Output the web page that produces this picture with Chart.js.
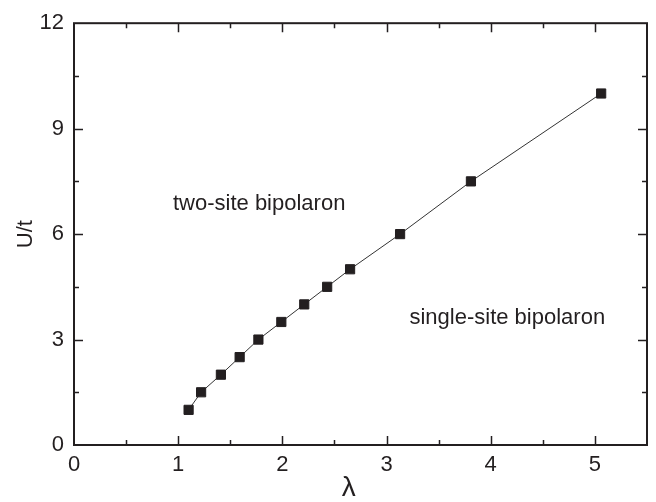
<!DOCTYPE html>
<html>
<head>
<meta charset="utf-8">
<script src="https://cdn.jsdelivr.net/npm/chart.js@4/dist/chart.umd.min.js"></script>
<style>
  html, body { margin: 0; padding: 0; background: #fff; }
  #wrap { width: 656px; height: 502px; }
</style>
</head>
<body>
<div id="wrap"><canvas id="phaseChart" width="656" height="502"></canvas></div>
<script>
// lambda vs U/t boundary between the two bipolaron regimes
const lambdaValues = [1.10, 1.22, 1.41, 1.59, 1.77, 1.99, 2.21, 2.43, 2.65, 3.13, 3.81, 5.06];
const uOverT = [1, 1.5, 2, 2.5, 3, 3.5, 4, 4.5, 5, 6, 7.5, 10];

const xTicks = [0, 1, 2, 3, 4, 5];
const yTicks = [0, 3, 6, 9, 12];

const regionLabels = ['two-site bipolaron', 'single-site bipolaron'];
const regionLabelAt = [[0.95, 6.68], [3.22, 3.45]];

const ink = '#231f20';
const fontFamily = '"Liberation Sans", Arial, sans-serif';

// frame with inward ticks on all four sides + region labels
const framePlugin = {
    id: 'frame',
    afterDatasetsDraw(chart) {
        const { ctx, chartArea: a, scales: { x, y } } = chart;
        ctx.save();
        ctx.strokeStyle = ink;
        ctx.lineWidth = 1.5;

        const xMinor = xTicks.map(v => v + 0.5);
        const yMinor = yTicks.slice(0, -1).map(v => v + 1.5);

        function tickX(v, len) {
            const px = Math.round(x.getPixelForValue(v)) + 0.5;
            if (px < a.left + 1 || px > a.right - 1) return;
            ctx.beginPath();
            ctx.moveTo(px, a.bottom); ctx.lineTo(px, a.bottom - len);
            ctx.moveTo(px, a.top); ctx.lineTo(px, a.top + len);
            ctx.stroke();
        }
        function tickY(v, len) {
            const py = Math.round(y.getPixelForValue(v)) + 0.5;
            if (py < a.top + 1 || py > a.bottom - 1) return;
            ctx.beginPath();
            ctx.moveTo(a.left, py); ctx.lineTo(a.left + len, py);
            ctx.moveTo(a.right, py); ctx.lineTo(a.right - len, py);
            ctx.stroke();
        }
        xTicks.forEach(v => tickX(v, 9));
        xMinor.forEach(v => tickX(v, 5));
        yTicks.forEach(v => tickY(v, 9));
        yMinor.forEach(v => tickY(v, 5));

        ctx.lineWidth = 2;
        ctx.strokeRect(a.left, a.top, a.right - a.left, a.bottom - a.top);

        ctx.fillStyle = ink;
        ctx.font = '22px ' + fontFamily;
        ctx.textAlign = 'left';
        ctx.textBaseline = 'alphabetic';
        regionLabels.forEach((txt, i) => {
            const [lx, ly] = regionLabelAt[i];
            ctx.fillText(txt, x.getPixelForValue(lx), y.getPixelForValue(ly));
        });
        ctx.restore();
    }
};

new Chart(document.getElementById('phaseChart'), {
    type: 'scatter',
    data: {
        datasets: [{
            data: lambdaValues.map((v, i) => ({ x: v, y: uOverT[i] })),
            showLine: true,
            borderColor: '#333',
            borderWidth: 1,
            pointStyle: 'rect',
            pointRadius: 6.5,
            pointBorderWidth: 1,
            pointBackgroundColor: ink,
            pointBorderColor: ink
        }]
    },
    options: {
        responsive: false,
        animation: false,
        events: [],
        layout: { padding: { left: 0, top: 21, right: 9, bottom: 0 } },
        plugins: { legend: { display: false }, tooltip: { enabled: false } },
        scales: {
            x: {
                type: 'linear',
                min: 0,
                max: 5.5,
                afterBuildTicks: s => { s.ticks = xTicks.map(v => ({ value: v })); },
                afterFit: s => { s.height = 57; },
                grid: { display: false, drawTicks: false },
                border: { display: false },
                ticks: { color: ink, padding: 7, font: { family: fontFamily, size: 22 } },
                title: {
                    display: true,
                    text: 'λ   ',
                    color: ink,
                    padding: { top: 0, bottom: 0 },
                    font: { family: fontFamily, size: 28, lineHeight: 1 }
                }
            },
            y: {
                type: 'linear',
                min: 0,
                max: 12,
                afterBuildTicks: s => { s.ticks = yTicks.map(v => ({ value: v })); },
                afterFit: s => { s.width = 74; },
                grid: { display: false, drawTicks: false },
                border: { display: false },
                ticks: { color: ink, padding: 10, font: { family: fontFamily, size: 22 } },
                title: {
                    display: true,
                    text: 'U/t',
                    color: ink,
                    padding: { top: 13, bottom: 0 },
                    font: { family: fontFamily, size: 22 }
                }
            }
        }
    },
    plugins: [framePlugin]
});
</script>
</body>
</html>
